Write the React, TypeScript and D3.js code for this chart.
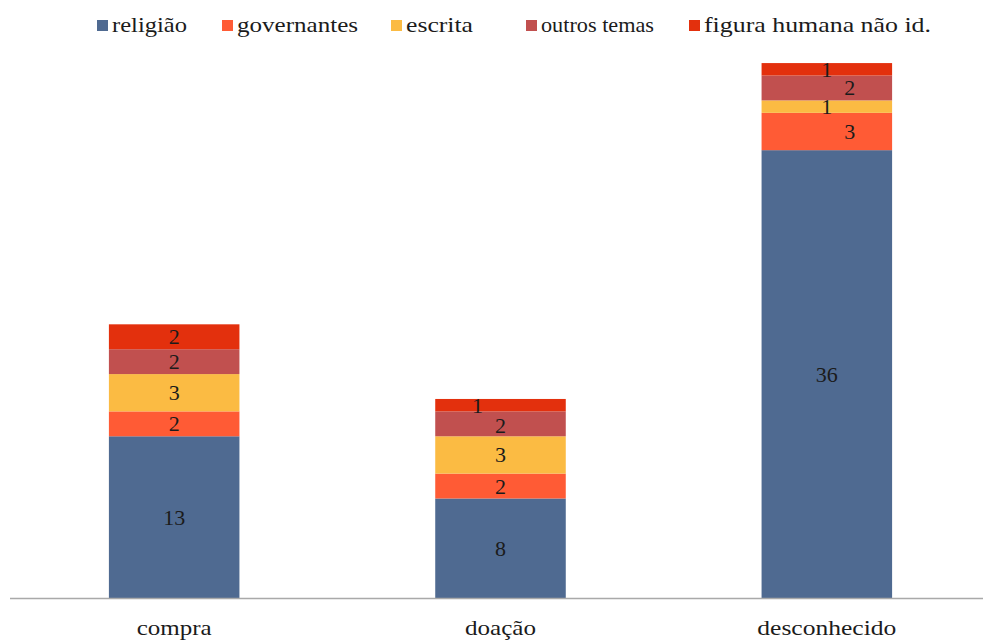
import React, { useEffect, useRef } from "react";
import * as d3 from "d3";

const categories = ["compra", "doação", "desconhecido"];
const seriesNames = ["religião", "governantes", "escrita", "outros temas", "figura humana não id."];
const religiao = [13, 8, 36];
const governantes = [2, 2, 3];
const escrita = [3, 3, 1];
const outrosTemas = [2, 2, 2];
const figuraHumana = [2, 1, 1];

const seriesValues = [religiao, governantes, escrita, outrosTemas, figuraHumana];
const colors = ["#4F6A91", "#FF5B35", "#FBBB43", "#C1504F", "#E3300D"];

// label nudges (layout only): key "category-series" -> [dx, dy]
const labelNudge: Record<string, [number, number]> = {
  "1-4": [-23, 0],
  "1-3": [0, 2],
  "2-3": [23, 0],
  "2-1": [23, 0],
};

const W = 983;
const H = 641;
const baseY = 598;
const unit = 12.44;
const yMax = 45;

const legendX = [97, 222, 391, 526, 689];
const legendW = [75, 121, 67, 113, 227];
const axisW = [75, 71, 139];

const FONT = '"Liberation Serif", Tinos, "Times New Roman"';

export default function App() {
  const ref = useRef<SVGSVGElement>(null);

  useEffect(() => {
    const svg = d3.select(ref.current);
    svg.selectAll("*").remove();

    const x = d3
      .scaleBand<string>()
      .domain(categories)
      .range([11, 990])
      .paddingInner(0.6)
      .paddingOuter(0.3);
    const y = d3.scaleLinear().domain([0, yMax]).range([baseY, baseY - unit * yMax]);

    const table = categories.map((c, i) => {
      const row: any = { cat: c };
      seriesNames.forEach((s, j) => (row[s] = seriesValues[j][i]));
      return row;
    });
    const stacked = d3.stack<any>().keys(seriesNames)(table);

    const setFont = (sel: any, size: number) =>
      sel
        .attr("font-family", FONT)
        .attr("font-size", size)
        .style("font-family", FONT, "important")
        .style("font-size", size + "px", "important")
        .attr("fill", "#1b1b1b");

    // bars
    stacked.forEach((layer, j) => {
      svg
        .append("g")
        .selectAll("rect")
        .data(layer)
        .join("rect")
        .attr("x", (_d, i) => x(categories[i])!)
        .attr("width", x.bandwidth())
        .attr("y", (d) => y(d[1]))
        .attr("height", (d) => y(d[0]) - y(d[1]))
        .attr("fill", colors[j]);
    });

    // value labels
    stacked.forEach((layer, j) => {
      const g = svg.append("g");
      layer.forEach((d, i) => {
        const nudge = labelNudge[`${i}-${j}`] || [0, 0];
        const t = g
          .append("text")
          .attr("x", x(categories[i])! + x.bandwidth() / 2 + nudge[0])
          .attr("y", (y(d[0]) + y(d[1])) / 2 + nudge[1] + 7.5)
          .attr("text-anchor", "middle")
          .text(String(seriesValues[j][i]));
        setFont(t, 22);
      });
    });

    // baseline
    svg
      .append("line")
      .attr("x1", 10)
      .attr("x2", 983)
      .attr("y1", baseY + 0.5)
      .attr("y2", baseY + 0.5)
      .attr("stroke", "#a9a9a9")
      .attr("stroke-width", 1.5);

    // category labels
    categories.forEach((c, i) => {
      const t = svg
        .append("text")
        .attr("x", x(c)! + x.bandwidth() / 2 - axisW[i] / 2)
        .attr("y", 635)
        .attr("textLength", axisW[i])
        .attr("lengthAdjust", "spacingAndGlyphs")
        .text(c);
      setFont(t, 22);
    });

    // legend
    seriesNames.forEach((s, j) => {
      const g = svg.append("g");
      g.append("rect")
        .attr("x", legendX[j])
        .attr("y", 20)
        .attr("width", 11)
        .attr("height", 11)
        .attr("fill", colors[j]);
      const t = g
        .append("text")
        .attr("x", legendX[j] + 15)
        .attr("y", 32)
        .attr("textLength", legendW[j])
        .attr("lengthAdjust", "spacingAndGlyphs")
        .text(s);
      setFont(t, 22);
    });
  }, []);

  return (
    <svg
      ref={ref}
      width={W}
      height={H}
      style={{ position: "absolute", left: 0, top: 0, background: "#fff" }}
    />
  );
}
